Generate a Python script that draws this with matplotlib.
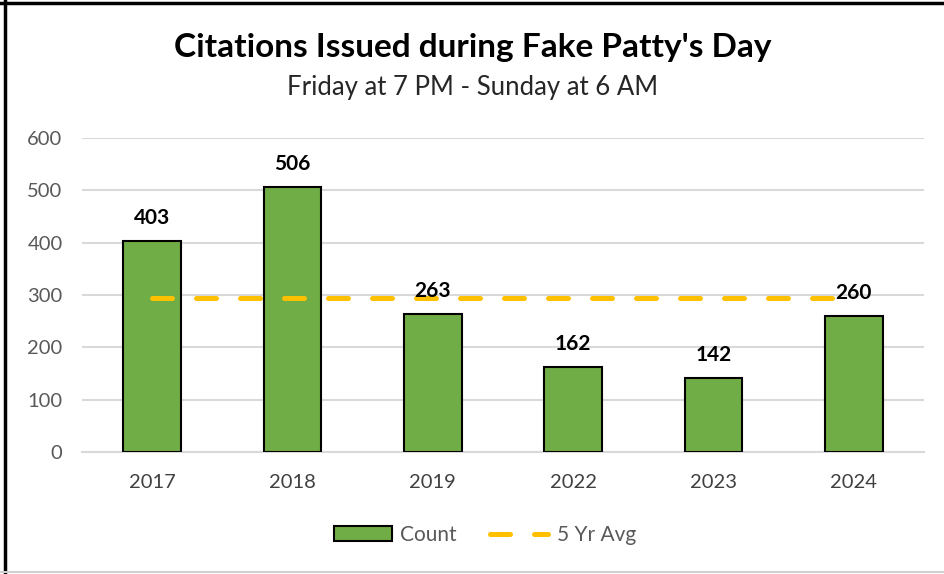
import matplotlib
matplotlib.use('Agg')
import matplotlib.pyplot as plt
from matplotlib.lines import Line2D
from matplotlib.patches import Patch

plt.rcParams.update({
    'font.family': 'Lato',
    'axes.spines.top': False,
    'axes.spines.right': False,
    'axes.spines.left': False,
})

# data
years = ['2017', '2018', '2019', '2022', '2023', '2024']
counts = [403, 506, 263, 162, 142, 260]
avg5 = [295.2, 295.2, 295.2, 295.2, 295.2, 295.2]

GREEN = '#70AD47'
GOLD = '#FFC000'
GRID = '#D9D9D9'

fig = plt.figure(figsize=(9.45, 5.74), dpi=100)
ax = fig.add_axes([0.0868, 0.2125, 0.8910, 0.5471])

x = range(len(years))
bars = ax.bar(x, counts, width=0.41, color=GREEN, edgecolor='black',
              linewidth=1.5, zorder=3)
ax.plot(x, avg5, color=GOLD, lw=3.6, dashes=(4, 4.8),
        dash_capstyle='round', zorder=4)

for b, v in zip(bars, counts):
    ax.annotate(f'{v}', (b.get_x() + b.get_width() / 2, v),
                xytext=(0, 9.5), textcoords='offset points',
                ha='center', va='bottom', fontsize=15,
                fontweight='bold', color='black', zorder=5)

ax.set_xlim(-0.5, 5.5)
ax.set_ylim(0, 600)
ax.set_yticks(range(0, 601, 100))
ax.set_xticks(list(x))
ax.set_xticklabels(years)
ax.yaxis.grid(True, color=GRID, lw=1.5, zorder=0)
ax.set_axisbelow(True)
ax.spines['bottom'].set_color(GRID)
ax.spines['bottom'].set_linewidth(1.5)
ax.tick_params(axis='both', length=0, labelsize=14.5)
ax.tick_params(axis='y', colors='#595959', pad=14)
ax.tick_params(axis='x', colors='#404040', pad=16)

fig.text(0.5, 1 - 48 / 574, "Citations Issued during Fake Patty's Day",
         ha='center', va='center', fontsize=24, fontweight='bold')
fig.text(0.5, 1 - 88 / 574, 'Friday at 7 PM - Sunday at 6 AM',
         ha='center', va='center', fontsize=18.5, color='#262626')

handles = [Patch(facecolor=GREEN, edgecolor='black', linewidth=1.5),
           Line2D([0], [0], color=GOLD, lw=3.6, dashes=(4, 4.8),
                  dash_capstyle='round')]
fig.legend(handles, ['Count', '5 Yr Avg'], loc='center',
           bbox_to_anchor=(0.513, 1 - 535 / 574), ncol=2, frameon=False,
           fontsize=15, labelcolor='#595959', handlelength=2.8,
           columnspacing=1.6, handletextpad=0.4)

# frame edges of the original screenshot
fig.add_artist(Line2D([0, 1], [1 - 3 / 574, 1 - 3 / 574], color='black',
                      lw=2.5, transform=fig.transFigure))
fig.add_artist(Line2D([5 / 945, 5 / 945], [0, 1], color='black',
                      lw=2.5, transform=fig.transFigure))
fig.add_artist(Line2D([0, 1], [2 / 574, 2 / 574], color='#D0D0D0',
                      lw=1.5, transform=fig.transFigure))

fig.savefig('out.png', dpi=100)
